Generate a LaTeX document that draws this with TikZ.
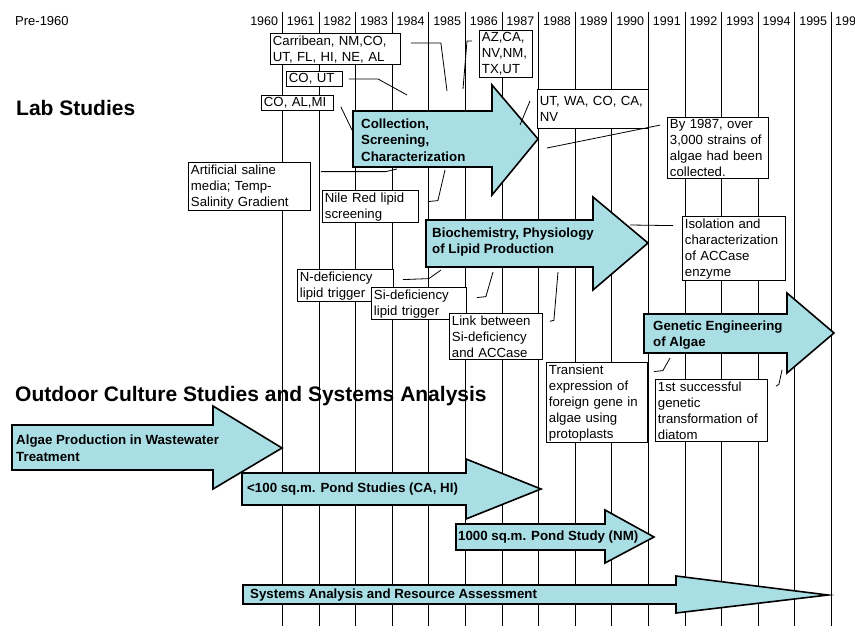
\documentclass[tikz,border=0pt]{standalone}
\usepackage{fontspec}
\setmainfont{Liberation Sans}
\usepackage{tikz}
\usetikzlibrary{calc}
\definecolor{bandcyan}{RGB}{170,222,229}

\begin{document}
\begin{tikzpicture}[x=1pt,y=-1pt,
  yearline/.style={line width=1.1pt},
  yearlabel/.style={inner sep=0pt,font=\fontsize{12.5}{13}\selectfont},
  heading/.style={anchor=west,inner sep=0pt,font=\fontsize{21}{24}\selectfont\bfseries},
  band/.style={fill=bandcyan,draw=black,line width=1.6pt},
  bandtext/.style={anchor=west,align=left,inner sep=0pt,font=\fontsize{13.3}{16.5}\selectfont\bfseries},
  note/.style={draw,fill=white,line width=0.9pt,anchor=north west,align=left,
               inner xsep=2.5pt,inner ysep=2pt,font=\fontsize{13.2}{16}\selectfont},
  lead/.style={line width=0.8pt}]
  \clip (0,0) rectangle (855,637);

  % Year Grid
  \node[anchor=west,inner sep=0pt,font=\fontsize{13}{14}\selectfont] (pre) at (15,21) {Pre-1960};
  \foreach \yr [count=\i from 0] in {1960,1961,1982,1983,...,1995} {
    \draw[yearline] ({282.5+36.6*\i},12) -- ({282.5+36.6*\i},626);
    \node[yearlabel] (y\yr) at ({264.2+36.6*\i},21) {\yr};
  }
  \node[yearlabel,anchor=west] (ylast) at (835,21) {199};

  % Headings
  \node[heading] (lab)     at (16,108) {Lab Studies};
  \node[heading] (outdoor) at (15,396) {Outdoor Culture Studies and Systems Analysis};

  % Lab Arrows
  \draw[band] (353,111) -- (492,111) -- (492,85)  -- (538,139) -- (492,195) -- (492,167) -- (353,167) -- cycle;
  \draw[band] (426,220) -- (593,220) -- (593,197) -- (648,243) -- (593,290) -- (593,267) -- (426,267) -- cycle;
  \draw[band] (644,314) -- (787,314) -- (787,293) -- (834,333) -- (787,373) -- (787,353) -- (644,353) -- cycle;
  \node[bandtext] (collect) at (361,140) {Collection,\\Screening,\\Characterization};
  \node[bandtext] (biochem) at (432,242) {Biochemistry, Physiology\\of Lipid Production};
  \node[bandtext] (genetic) at (653,335) {Genetic Engineering\\of Algae};

  % Outdoor Arrows
  \draw[band] (12,425)  -- (213,425) -- (213,406) -- (282,448) -- (213,489) -- (213,470) -- (12,470)  -- cycle;
  \draw[band] (242,473) -- (466,473) -- (466,459) -- (541,489) -- (466,519) -- (466,505) -- (242,505) -- cycle;
  \draw[band] (456,524) -- (605,524) -- (605,510) -- (654,537) -- (605,563) -- (605,550) -- (456,550) -- cycle;
  \draw[band] (243,585) -- (676,585) -- (676,576) -- (828,595) -- (676,613) -- (676,604) -- (243,604) -- cycle;
  \node[bandtext] (waste)    at (16,448)  {Algae Production in Wastewater\\Treatment};
  \node[bandtext] (pond100)  at (247,489) {<100 sq.m. Pond Studies (CA, HI)};
  \node[bandtext] (pond1000) at (458,537) {1000 sq.m. Pond Study (NM)};
  \node[bandtext] (systems)  at (250,595) {Systems Analysis and Resource Assessment};

  % Notes
  \node[note, text width=125pt] (carib) at (270,33)  {Carribean, NM,CO,\\UT, FL, HI, NE, AL};
  \node[note, text width=51pt]  (coUT)  at (286,71)  {CO, UT};
  \node[note, text width=67pt]  (coAL)  at (261,95)  {CO, AL,MI};
  \node[note, text width=48pt]  (azca)  at (479,30)  {AZ,CA,\\NV,NM,\\TX,UT};
  \node[note, text width=106pt, minimum height=39pt] (utwa) at (537,89) {UT, WA, CO, CA,\\NV};
  \node[note, text width=96pt]  (by87)  at (667,117) {By 1987, over\\3,000 strains of\\algae had been\\collected.};
  \node[note, text width=117pt] (artif) at (188,162) {Artificial saline\\media; Temp-\\Salinity Gradient};
  \node[note, text width=91pt]  (nile)  at (322,190) {Nile Red lipid\\screening};
  \node[note, text width=98pt]  (isol)  at (682,216) {Isolation and\\characterization\\of ACCase\\enzyme};
  \node[note, text width=91pt]  (ndef)  at (297,269) {N-deficiency\\lipid trigger};
  \node[note, text width=90pt]  (sidef) at (371,287) {Si-deficiency\\lipid trigger};
  \node[note, text width=88pt]  (link)  at (449,313) {Link between\\Si-deficiency\\and ACCase};
  \node[note, text width=96pt]  (trans) at (546,362) {Transient\\expression of\\foreign gene in\\algae using\\protoplasts};
  \node[note, text width=107pt] (first) at (655,379) {1st successful\\genetic\\transformation of\\diatom};

  % Leader Ends
  \coordinate (k-carib) at (447,91);
  \coordinate (k-coUT)  at (407,95);
  \coordinate (k-coAL)  at (352,130);
  \coordinate (k-azca)  at (463,89);
  \coordinate (k-utwa)  at (520,125);
  \coordinate (k-by87)  at (547,148);
  \coordinate (k-artif) at (397,169);
  \coordinate (k-nile)  at (445,170);
  \coordinate (k-isol)  at (630,225);
  \coordinate (k-ndef)  at (441,270);
  \coordinate (k-sidef) at (493,272);
  \coordinate (k-link)  at (558,272);
  \coordinate (k-trans) at (670,358);
  \coordinate (k-first) at (782,370);

  % Leaders
  \draw[lead] ([shift={(10,-6)}]carib.east)  -- ++(30,0)  -- (k-carib);
  \draw[lead] ([shift={(6,0)}]coUT.east)     -- ++(29,0)  -- (k-coUT);
  \draw[lead] ([shift={(7,4)}]coAL.east)                  -- (k-coAL);
  \draw[lead] ([shift={(-7,-13)}]azca.west)  -- ++(-5,0)  -- (k-azca);
  \draw[lead] ([shift={(-7,-8)}]utwa.west)                -- (k-utwa);
  \draw[lead] ([shift={(-7,-23)}]by87.west)               -- (k-by87);
  \draw[lead] ([shift={(10,-15)}]artif.east) -- ++(65,0)  -- (k-artif);
  \draw[lead] ([shift={(9,-5)}]nile.east)    -- ++(10,-1) -- (k-nile);
  \draw[lead] ([shift={(-9,-23)}]isol.west)               -- (k-isol);
  \draw[lead] ([shift={(9,-6)}]ndef.east)    -- ++(26,-1) -- (k-ndef);
  \draw[lead] ([shift={(10,-6)}]sidef.east)  -- ++(9,-1)  -- (k-sidef);
  \draw[lead] ([shift={(7,-15)}]link.east)   -- ++(4,-1)  -- (k-link);
  \draw[lead] ([shift={(6,-31)}]trans.east)  -- ++(9,-1)  -- (k-trans);
  \draw[lead] ([shift={(8,-24)}]first.east)  -- ++(3,-2)  -- (k-first);
\end{tikzpicture}
\end{document}
